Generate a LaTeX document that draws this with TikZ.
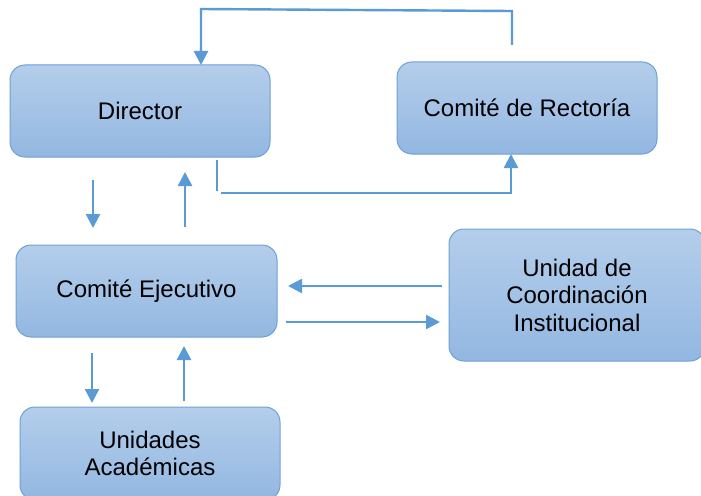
\documentclass[tikz,border=0pt]{standalone}
\usepackage{fontspec}
\setmainfont{Liberation Sans}
\usetikzlibrary{arrows.meta}
\definecolor{boxline}{HTML}{6FA0D6}
\definecolor{boxtop}{HTML}{B4CEEB}
\definecolor{boxbot}{HTML}{93B7E1}
\definecolor{arrcol}{HTML}{5B9BD5}
\begin{document}
\begin{tikzpicture}[x=1pt,y=-1pt,
  orgbox/.style={draw=boxline,line width=1pt,rounded corners=15pt,
    top color=boxtop,bottom color=boxbot,align=center,
    inner sep=0pt,outer sep=0pt,font=\fontsize{24}{27.5}\selectfont},
  arr/.style={draw=arrcol,line width=2.4pt,-{Triangle[length=14pt,width=14pt]}},
  ln/.style={draw=arrcol,line width=2.4pt}]
\useasboundingbox[fill=white] (0,0) rectangle (701,495);
\node[orgbox,minimum width=260pt,minimum height=92pt] (dir) at (140,111) {Director};
\node[orgbox,minimum width=260pt,minimum height=92pt] (rec) at (527,108) {Comité de Rectoría};
\node[orgbox,minimum width=261pt,minimum height=92pt] (eje) at (146.5,291) {\raisebox{-3pt}{Comité Ejecutivo}};
\node[orgbox,minimum width=256pt,minimum height=132pt] (uci) at (577,295) {\raisebox{-2pt}{Unidad de}\\\raisebox{-2pt}{Coordinación}\\\raisebox{-2pt}{Institucional}};
\node[orgbox,minimum width=260pt,minimum height=93pt] (ua) at (150,453.5) {Unidades\\Académicas};
% top loop
\coordinate (t1) at (512,45);
\draw[arr] (t1) -- (512,11) -- (201,9) -- (dir.north -| 201,0);
% Director -> Rectoria
\coordinate (s2) at (217,160);
\draw[ln] (s2) -- (217,191);
\draw[arr] (221,193) -- (511,193) -- (rec.south -| 511,0);
% Director <-> Ejecutivo
\coordinate (a1) at (93,180); \coordinate (a2) at (93,228);
\draw[arr] (a1) -- (a2);
\coordinate (b1) at (185,227); \coordinate (b2) at (185,172);
\draw[arr] (b1) -- (b2);
% Ejecutivo <-> Unidad
\coordinate (c1) at (442,286); \coordinate (c2) at (288,286);
\draw[arr] (c1) -- (c2);
\coordinate (d1) at (286,322); \coordinate (d2) at (440,322);
\draw[arr] (d1) -- (d2);
% Ejecutivo <-> Unidades
\coordinate (e1) at (92,353); \coordinate (e2) at (92,403);
\draw[arr] (e1) -- (e2);
\coordinate (f1) at (184,401); \coordinate (f2) at (184,346);
\draw[arr] (f1) -- (f2);
\end{tikzpicture}
\end{document}
